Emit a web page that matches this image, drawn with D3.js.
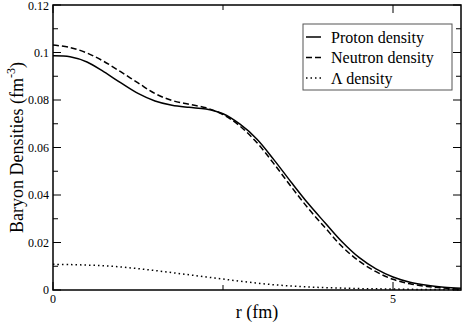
<!DOCTYPE html>
<html><head><meta charset="utf-8">
<script src="https://cdn.jsdelivr.net/npm/d3@7"></script>
<style>body{margin:0;background:#fff}svg{display:block}</style>
</head><body>
<script>
const radius = [0,0.25,0.5,0.75,1.0,1.25,1.5,1.75,2.0,2.25,2.5,2.75,3.0,3.25,3.5,3.75,4.0,4.25,4.5,4.75,5.0,5.25,5.5,5.75,6.0];
const proton = [0.0986,0.0982,0.0960,0.0918,0.0872,0.0828,0.0796,0.0778,0.0769,0.0762,0.0742,0.0698,0.0635,0.0548,0.0455,0.0365,0.0283,0.0203,0.0137,0.0089,0.0055,0.0033,0.0020,0.0012,0.0007];
const neutron = [0.1032,0.1021,0.0998,0.0962,0.0918,0.0872,0.0827,0.0798,0.0782,0.0767,0.0739,0.0690,0.0620,0.0531,0.0436,0.0345,0.0263,0.0183,0.0122,0.0077,0.0045,0.0026,0.0015,0.0008,0.0004];
const lambda = [0.0108,0.0107,0.0105,0.0102,0.0097,0.0090,0.0082,0.0073,0.0064,0.0055,0.0046,0.0037,0.0029,0.0022,0.0017,0.0013,0.0010,0.0008,0.0006,0.0005,0.0004,0.0003,0.0002,0.0002,0.0001];
const yTicks = [0,0.02,0.04,0.06,0.08,0.1,0.12];
const yTickLabels = ["0","0.02","0.04","0.06","0.08","0.1","0.12"];
const yMinor = [0.01,0.03,0.05,0.07,0.09,0.11];
const xTicks = [0,5];
const xMinor = [2.5];
const seriesNames = ["Proton density","Neutron density","\u039B density"];

const FONT = "Liberation Serif";
const W=463,H=324, L=53,R=461,T=5,B=290;
const svg=d3.select("body").append("svg").attr("width",W).attr("height",H)
  .attr("font-family",FONT);
const x=d3.scaleLinear().domain([0,6]).range([L,R]);
const y=d3.scaleLinear().domain([0,0.12]).range([B,T]);

// frame
svg.append("rect").attr("x",L).attr("y",T).attr("width",R-L).attr("height",B-T)
  .attr("fill","none").attr("stroke","#000").attr("stroke-width",1.5);

// ticks (inward, on all sides)
const tk=svg.append("g").attr("stroke","#000").attr("stroke-width",1);
yTicks.forEach(v=>{tk.append("line").attr("x1",L).attr("x2",L+8).attr("y1",y(v)).attr("y2",y(v));
  tk.append("line").attr("x1",R).attr("x2",R-8).attr("y1",y(v)).attr("y2",y(v));});
yMinor.forEach(v=>{tk.append("line").attr("x1",L).attr("x2",L+5).attr("y1",y(v)).attr("y2",y(v));
  tk.append("line").attr("x1",R).attr("x2",R-5).attr("y1",y(v)).attr("y2",y(v));});
xTicks.forEach(v=>{tk.append("line").attr("x1",x(v)).attr("x2",x(v)).attr("y1",B).attr("y2",B-8);
  tk.append("line").attr("x1",x(v)).attr("x2",x(v)).attr("y1",T).attr("y2",T+8);});
xMinor.forEach(v=>{tk.append("line").attr("x1",x(v)).attr("x2",x(v)).attr("y1",B).attr("y2",B-5);
  tk.append("line").attr("x1",x(v)).attr("x2",x(v)).attr("y1",T).attr("y2",T+5);});

// tick labels
yTicks.forEach((v,i)=>svg.append("text").attr("x",L-4).attr("y",Math.max(y(v)+4,10)).attr("text-anchor","end")
  .attr("font-size",12).text(yTickLabels[i]));
xTicks.forEach(v=>svg.append("text").attr("x",x(v)).attr("y",B+13).attr("text-anchor","middle")
  .attr("font-size",12).text(String(v)));

// axis titles
svg.append("text").attr("x",(L+R)/2).attr("y",318).attr("text-anchor","middle").attr("font-size",18).text("r (fm)");
const yt=svg.append("text").attr("transform",`translate(23,${(T+B)/2}) rotate(-90)`).attr("text-anchor","middle").attr("font-size",18);
yt.append("tspan").text("Baryon Densities (fm");
yt.append("tspan").attr("font-size",12).attr("dy",-8).text("-3");
yt.append("tspan").attr("dy",8).text(")");

// lines
const data=[proton,neutron,lambda];
const dashes=[null,"6,3","1.5,3"];
const line=d3.line().x((d,i)=>x(radius[i])).y(d=>y(d)).curve(d3.curveCatmullRom.alpha(0.5));
data.forEach((s,k)=>svg.append("path").datum(s).attr("d",line).attr("fill","none")
  .attr("stroke","#000").attr("stroke-width",1.5).attr("stroke-dasharray",dashes[k]));

// legend
const lg=svg.append("g");
lg.append("rect").attr("x",303).attr("y",24).attr("width",149).attr("height",66)
  .attr("fill","#fff").attr("stroke","#555").attr("stroke-width",1);
seriesNames.forEach((n,k)=>{
  const yy=37+k*20.5;
  lg.append("line").attr("x1",306).attr("x2",321).attr("y1",yy).attr("y2",yy)
    .attr("stroke","#000").attr("stroke-width",1.5).attr("stroke-dasharray",dashes[k]);
  lg.append("text").attr("x",331).attr("y",yy+5.5).attr("font-size",16).text(n);
});
</script>
</body></html>
